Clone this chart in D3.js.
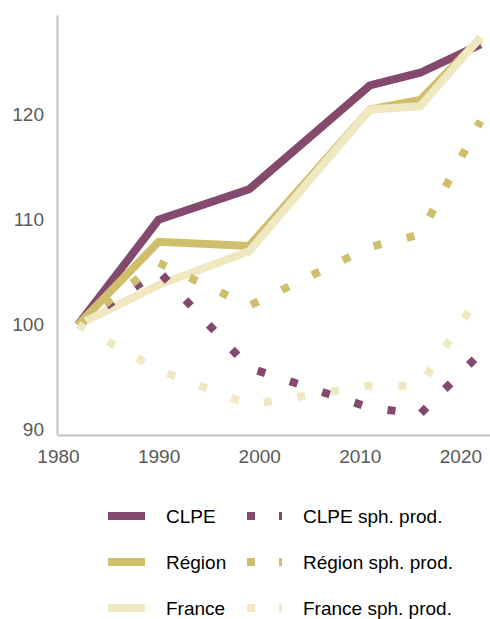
<!DOCTYPE html>
<html>
<head>
<meta charset="utf-8">
<script src="https://cdn.jsdelivr.net/npm/d3@7"></script>
<style>
  html, body { margin: 0; padding: 0; background: #fff; }
  svg { display: block; font-family: "Liberation Sans", Arial, sans-serif; }
</style>
</head>
<body>
<svg id="chart" width="490" height="619"></svg>
<script>
// Census years and population indices (base 100 in 1982)
const years = [1982, 1990, 1999, 2011, 2016, 2022];
const clpe = [100, 110.0, 112.9, 122.8, 124.0, 126.7];
const region = [100, 107.9, 107.5, 120.5, 121.4, 127.3];
const france = [100, 103.8, 107.0, 120.5, 120.8, 127.4];
const clpeSph = [100, 105.1, 95.9, 92.1, 91.5, 97.3];
const regionSph = [100, 105.9, 101.8, 107.4, 108.6, 119.4];
const franceSph = [100, 95.7, 92.4, 94.2, 94.2, 103.0];

const xTicks = [1980, 1990, 2000, 2010, 2020];
const yTicks = [90, 100, 110, 120];

const seriesNames = ["CLPE", "Région", "France", "CLPE sph. prod.", "Région sph. prod.", "France sph. prod."];
const seriesValues = [clpe, region, france, clpeSph, regionSph, franceSph];
const seriesColors = ["#834a6e", "#cfbf6c", "#efe8c0", "#834a6e", "#cfbf6c", "#efe8c0"];
const seriesDotted = [false, false, false, true, true, true];

const svg = d3.select("#chart");

const x = d3.scaleLinear().domain([1980, 2023]).range([58, 490.6]);
const y = d3.scaleLinear().domain([89.5, 129.5]).range([435, 15]);

// Axes
const gx = svg.append("g")
  .attr("transform", `translate(0,${y(89.5)})`)
  .call(d3.axisBottom(x).tickValues(xTicks).tickFormat(d3.format("d")).tickSize(0).tickPadding(15));
const gy = svg.append("g")
  .attr("transform", `translate(${x(1980) - 1},0)`)
  .call(d3.axisLeft(y).tickValues(yTicks).tickSize(0).tickPadding(13));

[gx, gy].forEach(g => {
  g.select(".domain").attr("stroke", "#bfbfbf").attr("stroke-width", 2);
  g.selectAll("text").attr("fill", "#595959").attr("font-size", 19)
    .attr("font-family", "'Liberation Sans', Arial, sans-serif");
});

// Series lines
const line = d3.line()
  .x((d, i) => x(years[i]))
  .y(d => y(d));

seriesValues.forEach((vals, i) => {
  svg.append("path")
    .datum(vals)
    .attr("d", line)
    .attr("fill", "none")
    .attr("stroke", seriesColors[i])
    .attr("stroke-width", 8)
    .attr("stroke-linecap", "butt")
    .attr("stroke-linejoin", "miter")
    .attr("stroke-dasharray", seriesDotted[i] ? "8,26" : null);
});

// Legend: solid series in the left column, dotted ones in the right column
const legend = svg.append("g");
const rowY = [516, 562, 608];
seriesNames.forEach((name, i) => {
  const col = seriesDotted[i] ? 1 : 0;
  const row = i % 3;
  const g = legend.append("g").attr("transform", `translate(0,${rowY[row]})`);
  const x0 = col === 0 ? 108 : 247;
  const x1 = col === 0 ? 145 : 282;
  g.append("line")
    .attr("x1", x0).attr("x2", x1)
    .attr("y1", 0).attr("y2", 0)
    .attr("stroke", seriesColors[i])
    .attr("stroke-width", 8)
    .attr("stroke-dasharray", seriesDotted[i] ? "8,24" : null);
  g.append("text")
    .attr("x", col === 0 ? 166 : 303)
    .attr("y", 0)
    .attr("dy", "0.36em")
    .attr("font-size", 19)
    .attr("fill", "#000")
    .text(name);
});
</script>
</body>
</html>
